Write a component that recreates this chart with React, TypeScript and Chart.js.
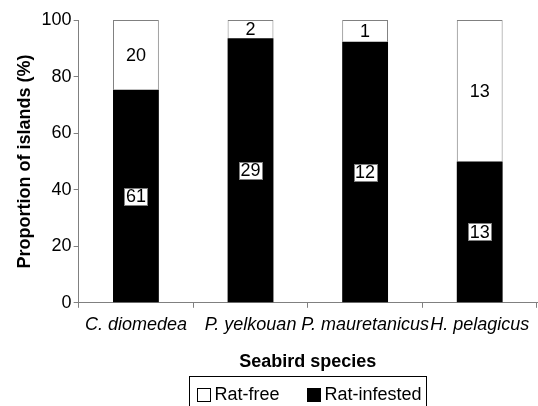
import React, { useEffect, useRef } from "react";
import { Chart, registerables } from "chart.js";

Chart.register(...registerables);

const species = ["C. diomedea", "P. yelkouan", "P. mauretanicus", "H. pelagicus"];
const ratFreeCounts = [20, 2, 1, 13];
const ratInfestedCounts = [61, 29, 12, 13];
const yTickValues = [0, 20, 40, 60, 80, 100];
const seriesNames = ["Rat-free", "Rat-infested"];
const yAxisTitle = "Proportion of islands (%)";
const xAxisTitle = "Seabird species";

const FONT = '"Liberation Sans", Arial, Helvetica, sans-serif';

const totals = species.map((_, i) => ratFreeCounts[i] + ratInfestedCounts[i]);
const infestedPct = ratInfestedCounts.map((v, i) => (v / totals[i]) * 100);
const freePct = ratFreeCounts.map((v, i) => (v / totals[i]) * 100);

const segLabelPlugin = {
  id: "segLabels",
  afterDatasetsDraw(chart: any) {
    const ctx = chart.ctx;
    ctx.save();
    ctx.font = `18px ${FONT}`;
    ctx.textAlign = "center";
    ctx.textBaseline = "middle";
    chart.data.datasets.forEach((ds: any, di: number) => {
      const meta = chart.getDatasetMeta(di);
      meta.data.forEach((el: any, i: number) => {
        const { x, y, base } = el.getProps(["x", "y", "base"], true);
        const cy = (y + base) / 2;
        const txt = String(ds.counts[i]);
        if (ds.boxed) {
          const w = Math.round(ctx.measureText(txt).width + 3);
          const h = 17;
          const bx = Math.round(x - w / 2) + 0.5;
          const by = Math.round(cy - h / 2) + 0.5;
          ctx.fillStyle = "#ffffff";
          ctx.fillRect(bx, by, w, h);
          ctx.strokeStyle = "#808080";
          ctx.lineWidth = 1;
          ctx.strokeRect(bx, by, w, h);
        }
        ctx.fillStyle = "#000000";
        ctx.fillText(txt, x, cy + 1);
      });
    });
    ctx.restore();
  },
};

const legendPlugin = {
  id: "boxLegend",
  afterDraw(chart: any) {
    const ctx = chart.ctx;
    const area = chart.chartArea;
    ctx.save();
    ctx.font = `18px ${FONT}`;
    ctx.textBaseline = "middle";
    ctx.textAlign = "left";
    const sq = 13;
    const gapSqText = 5;
    const gapItems = 27;
    const padL = 7;
    const padR = 5;
    const items = [
      { name: seriesNames[0], fill: "#ffffff" },
      { name: seriesNames[1], fill: "#000000" },
    ];
    const widths = items.map((it) => sq + gapSqText + ctx.measureText(it.name).width);
    const total = padL + widths[0] + gapItems + widths[1] + padR;
    const cx = (area.left + area.right) / 2;
    const left = Math.round(cx - total / 2) + 0.5;
    const top = 376.5;
    const cy = 395;
    ctx.strokeStyle = "#000000";
    ctx.lineWidth = 1;
    ctx.strokeRect(left, top, Math.round(total), 40);
    let x = left + padL;
    items.forEach((it, k) => {
      ctx.fillStyle = it.fill;
      ctx.fillRect(Math.round(x) + 0.5, cy - 7 + 0.5, sq, sq);
      ctx.strokeStyle = "#000000";
      ctx.strokeRect(Math.round(x) + 0.5, cy - 7 + 0.5, sq, sq);
      ctx.fillStyle = "#000000";
      ctx.fillText(it.name, x + sq + gapSqText, cy);
      x += widths[k] + gapItems;
    });
    ctx.restore();
  },
};

export default function App() {
  const canvasRef = useRef<HTMLCanvasElement | null>(null);

  useEffect(() => {
    document.body.style.margin = "0";
    const canvas = canvasRef.current;
    if (!canvas) return;
    const chart = new Chart(canvas, {
      type: "bar",
      data: {
        labels: species,
        datasets: [
          {
            label: seriesNames[1],
            data: infestedPct,
            backgroundColor: "#000000",
            borderColor: "#000000",
            borderWidth: 0,
            counts: ratInfestedCounts,
            boxed: true,
          } as any,
          {
            label: seriesNames[0],
            data: freePct,
            backgroundColor: "#ffffff",
            borderColor: "#808080",
            borderWidth: 1,
            counts: ratFreeCounts,
            boxed: false,
          } as any,
        ],
      },
      options: {
        animation: false,
        responsive: false,
        maintainAspectRatio: false,
        devicePixelRatio: 1,
        layout: { padding: { left: 14, right: 1, top: 20, bottom: 33 } },
        datasets: {
          bar: { barPercentage: 0.4, categoryPercentage: 1.0 },
        },
        plugins: {
          legend: { display: false },
          tooltip: { enabled: false },
          title: { display: false },
        },
        scales: {
          x: {
            stacked: true,
            grid: {
              display: true,
              drawOnChartArea: false,
              drawTicks: true,
              tickLength: 5,
              color: "#808080",
              offset: true,
            },
            border: { display: true, color: "#808080", width: 1 },
            ticks: {
              color: "#000000",
              padding: 6,
              maxRotation: 0,
              autoSkip: false,
              font: { family: FONT, size: 18, style: "italic" },
            },
            title: {
              display: true,
              text: xAxisTitle,
              color: "#000000",
              padding: { top: 10, bottom: 0 },
              font: { family: FONT, size: 18, weight: "bold" },
            },
          },
          y: {
            stacked: true,
            min: 0,
            max: 100,
            afterBuildTicks: (scale: any) => {
              scale.ticks = yTickValues.map((v) => ({ value: v }));
            },
            grid: {
              display: true,
              drawOnChartArea: false,
              drawTicks: true,
              tickLength: 5,
              color: "#808080",
            },
            border: { display: true, color: "#808080", width: 1 },
            ticks: {
              color: "#000000",
              padding: 2,
              font: { family: FONT, size: 18 },
            },
            title: {
              display: true,
              text: yAxisTitle,
              color: "#000000",
              padding: { top: 0, bottom: 4 },
              font: { family: FONT, size: 18, weight: "bold" },
            },
          },
        },
      } as any,
      plugins: [segLabelPlugin, legendPlugin],
    });
    return () => chart.destroy();
  }, []);

  return (
    <div style={{ width: 538, height: 406, background: "#ffffff" }}>
      <canvas ref={canvasRef} width={538} height={406} style={{ display: "block" }} />
    </div>
  );
}
